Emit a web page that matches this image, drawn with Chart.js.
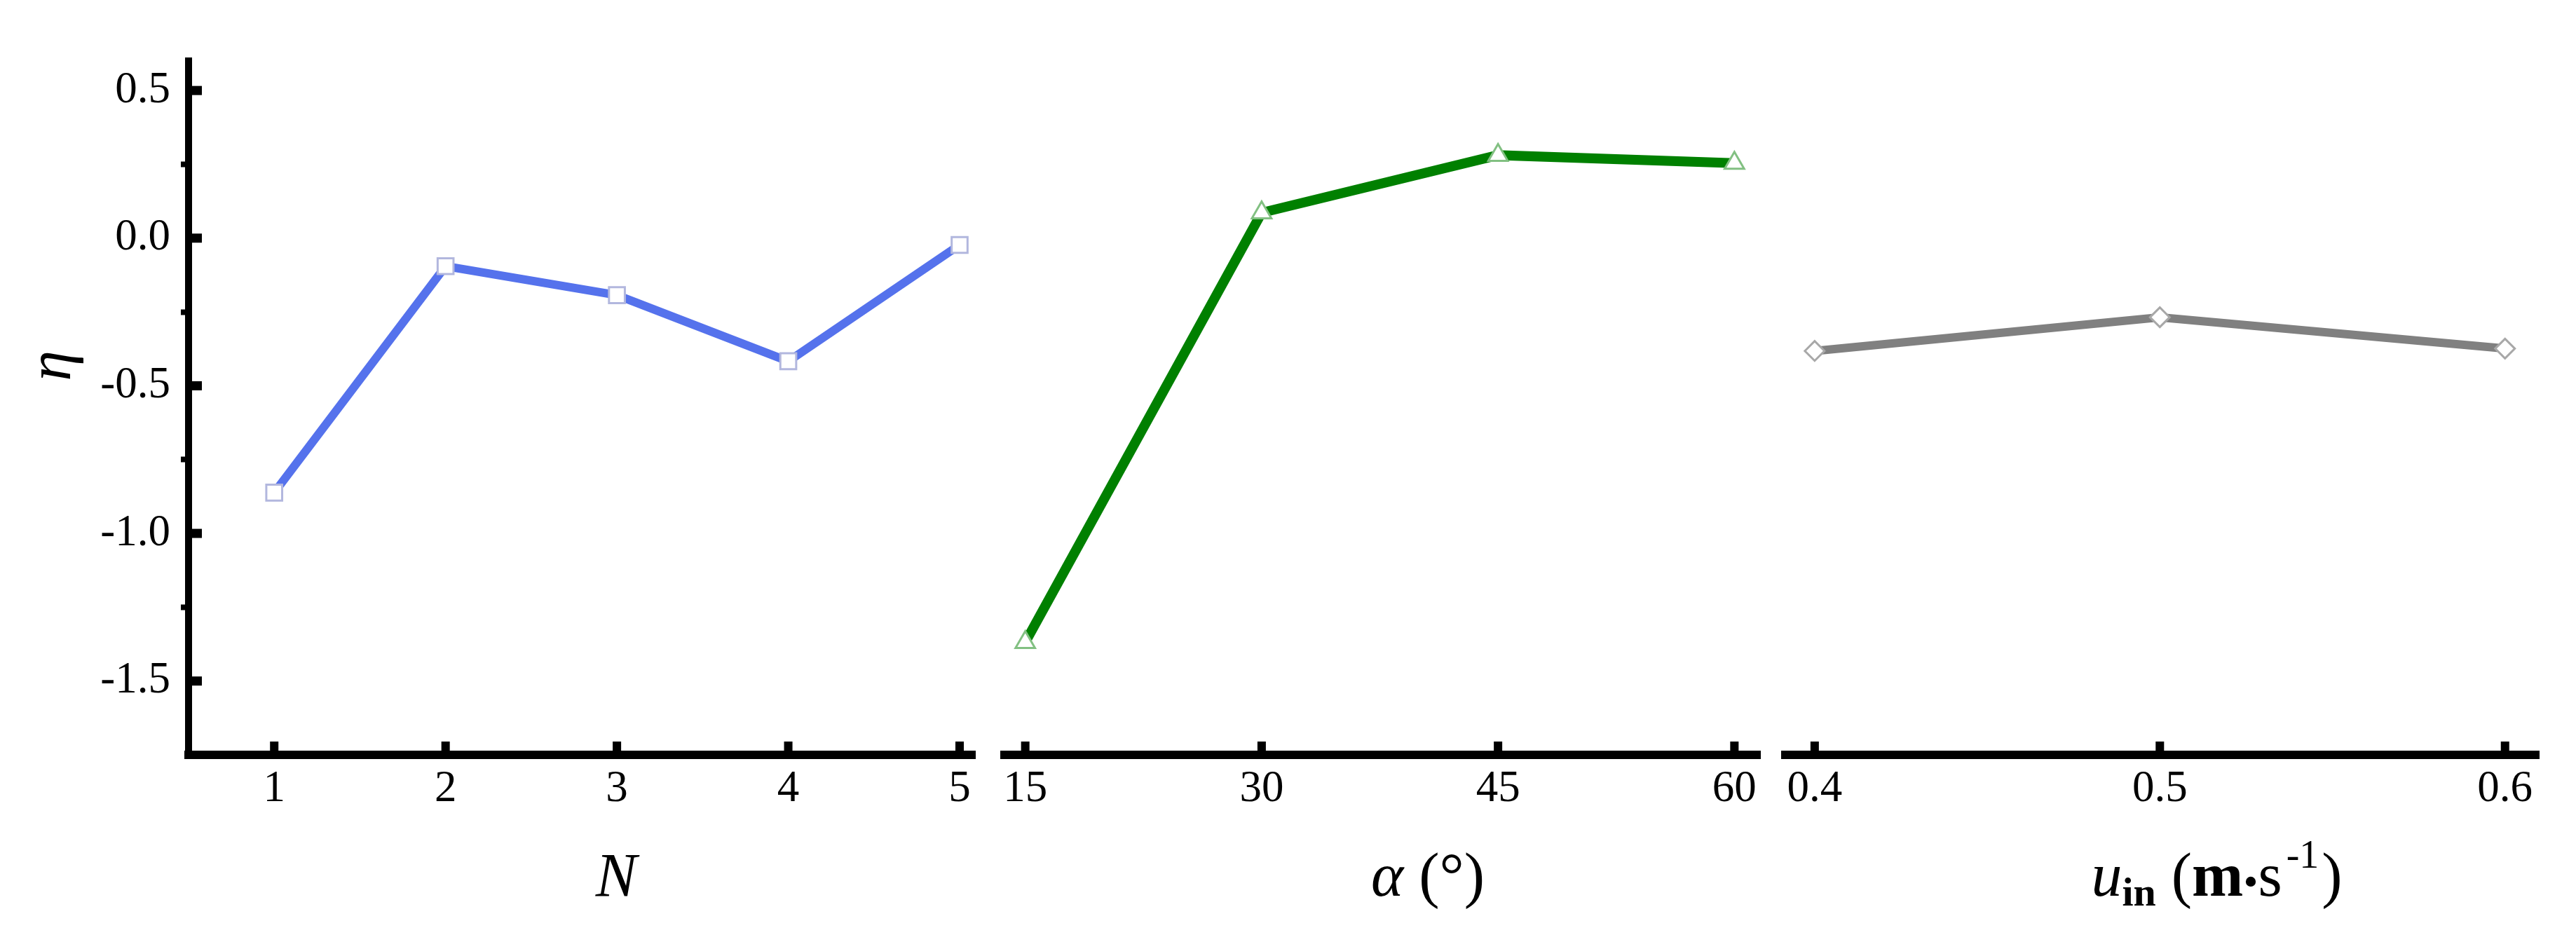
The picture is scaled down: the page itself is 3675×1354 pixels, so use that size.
<!DOCTYPE html>
<html>
<head>
<meta charset="utf-8">
<title>eta vs N, alpha, u_in</title>
<script src="https://cdn.jsdelivr.net/npm/chart.js@4.4.1/dist/chart.umd.min.js"></script>
<style>
  html, body { margin: 0; padding: 0; background: #fff; }
  #wrap { position: relative; width: 3675px; height: 1354px; overflow: hidden; background: #fff; }
  #wrap canvas { position: absolute; top: 0; }
</style>
</head>
<body>
<div id="wrap">
  <canvas id="c-n" width="1410" height="1354" style="left:0"></canvas>
  <canvas id="c-alpha" width="1120" height="1354" style="left:1410px"></canvas>
  <canvas id="c-u" width="1145" height="1354" style="left:2530px"></canvas>
</div>
<script>
(function () {
    'use strict';

    // values
    var nValues = [1, 2, 3, 4, 5];
    var etaN = [-0.862, -0.095, -0.193, -0.417, -0.023];
    var alphaValues = [15, 30, 45, 60];
    var etaAlpha = [-1.369, 0.086, 0.281, 0.254];
    var uValues = [0.4, 0.5, 0.6];
    var etaU = [-0.382, -0.268, -0.374];

    var nTickLabels = ['1', '2', '3', '4', '5'];
    var alphaTickLabels = ['15', '30', '45', '60'];
    var uTickLabels = ['0.4', '0.5', '0.6'];
    var etaMajorTicks = [-1.5, -1.0, -0.5, 0.0, 0.5];
    var etaTickLabels = ['-1.5', '-1.0', '-0.5', '0.0', '0.5'];
    var etaMinorTicks = [-1.25, -0.75, -0.25, 0.25];

    var SERIF = '"Liberation Serif", "Times New Roman", serif';
    function font(style, size) { return style + ' ' + size + 'px ' + SERIF; }

    Chart.defaults.font.family = SERIF;
    Chart.defaults.color = '#000';

    // major ticks point into the plot, so they are drawn here
    var innerTicks = {
        id: 'innerTicks',
        afterDraw: function (chart, args, opts) {
            var ctx = chart.ctx, area = chart.chartArea;
            var xs = chart.scales.x, ys = chart.scales.y;
            ctx.save();
            ctx.fillStyle = '#000';
            xs.ticks.forEach(function (t) {
                var px = xs.getPixelForValue(t.value);
                ctx.fillRect(px - 6, area.bottom - 19, 12, 13);
            });
            if (opts.y) {
                etaMajorTicks.forEach(function (v) {
                    var py = ys.getPixelForValue(v);
                    ctx.fillRect(area.left + 5, py - 6.5, 14, 13);
                });
            }
            ctx.restore();
        }
    };

    // axis titles with mixed italic / bold / sub / superscript
    var axisText = {
        id: 'axisText',
        afterDraw: function (chart, args, opts) {
            var ctx = chart.ctx, area = chart.chartArea;
            (opts.items || []).forEach(function (it) {
                ctx.save();
                ctx.fillStyle = '#000';
                ctx.textAlign = 'left';
                ctx.textBaseline = 'alphabetic';
                var w = 0;
                it.parts.forEach(function (p) {
                    ctx.font = p.font;
                    w += (p.gap || 0) + ctx.measureText(p.text).width;
                });
                var ox = it.x != null ? it.x : (area.left + area.right) / 2 + (it.dx || 0);
                ctx.translate(ox, it.y);
                if (it.rotate) ctx.rotate(it.rotate);
                var cur = -w / 2;
                it.parts.forEach(function (p) {
                    ctx.font = p.font;
                    cur += p.gap || 0;
                    ctx.fillText(p.text, cur, p.dy || 0);
                    cur += ctx.measureText(p.text).width;
                });
                ctx.restore();
            });
        }
    };

    function points(xs, ys) {
        return xs.map(function (x, i) { return { x: x, y: ys[i] }; });
    }

    function panel(id, p) {
        var yScale;
        if (p.withY) {
            yScale = {
                position: 'left', min: -1.75, max: 0.6,
                afterBuildTicks: function (s) {
                    s.ticks = etaMajorTicks.concat(etaMinorTicks).sort(function (a, b) { return a - b; })
                        .map(function (v) { return { value: v }; });
                },
                afterFit: function (s) { s.width = 269; },
                grid: {
                    display: true, drawOnChartArea: false, drawTicks: true, tickLength: 11, tickWidth: 8,
                    tickColor: function (c) {
                        return c.tick && etaMinorTicks.indexOf(c.tick.value) >= 0 ? '#000' : 'rgba(0,0,0,0)';
                    }
                },
                border: { display: true, color: '#000', width: 10 },
                ticks: {
                    padding: 15, color: '#000', font: { size: 63 },
                    callback: function (v) {
                        var i = etaMajorTicks.indexOf(v);
                        return i < 0 ? '' : etaTickLabels[i];
                    }
                }
            };
        } else {
            yScale = { display: false, min: -1.75, max: 0.6 };
        }

        return new Chart(document.getElementById(id), {
            type: 'line',
            data: {
                datasets: [{
                    data: points(p.xs, p.ys),
                    borderColor: p.line, borderWidth: p.lineWidth,
                    pointStyle: p.marker, pointRadius: p.radius,
                    pointBorderColor: p.edge, pointBackgroundColor: '#fff', pointBorderWidth: 3,
                    tension: 0, fill: false
                }]
            },
            options: {
                responsive: false, animation: false, events: [],
                layout: { padding: p.pad },
                plugins: {
                    legend: { display: false }, tooltip: { enabled: false },
                    innerTicks: { y: p.withY },
                    axisText: { items: p.titles }
                },
                scales: {
                    x: {
                        type: 'linear', min: p.xMin, max: p.xMax,
                        afterBuildTicks: function (s) {
                            s.ticks = p.xs.map(function (v) { return { value: v }; });
                        },
                        afterFit: function (s) { s.height = 277; },
                        grid: { display: false, drawTicks: false },
                        border: { display: true, color: '#000', width: 12 },
                        ticks: {
                            autoSkip: false, maxRotation: 0, padding: 12, color: '#000', font: { size: 63 },
                            callback: function (v, i) { return p.xLabels[i]; }
                        }
                    },
                    y: yScale
                }
            },
            plugins: [innerTicks, axisText]
        });
    }

    panel('c-n', {
        xs: nValues, ys: etaN, xLabels: nTickLabels, xMin: 0.5, xMax: 5.09,
        line: '#5572EC', lineWidth: 12, marker: 'rect', radius: 16, edge: '#B2B7DE',
        pad: { top: 87, right: 15, bottom: 0, left: 0 }, withY: true,
        titles: [
            { dx: 49, y: 1278, parts: [{ text: 'N', font: font('italic', 88) }] },
            { x: 100, y: 522, rotate: -Math.PI / 2, parts: [{ text: 'η', font: font('italic', 88) }] }
        ]
    });

    panel('c-alpha', {
        xs: alphaValues, ys: etaAlpha, xLabels: alphaTickLabels, xMin: 13.68, xMax: 61.63,
        line: '#008000', lineWidth: 14, marker: 'triangle', radius: 16, edge: '#82C082',
        pad: { top: 87, right: 7, bottom: 0, left: 23 }, withY: false,
        titles: [
            { dx: 65, y: 1278, parts: [
                { text: 'α', font: font('italic', 88) },
                { text: ' (', font: font('normal', 88) },
                { text: '°', font: font('normal', 88) },
                { text: ')', font: font('normal', 88) }
            ] }
        ]
    });

    panel('c-u', {
        xs: uValues, ys: etaU, xLabels: uTickLabels, xMin: 0.3915, xMax: 0.6098,
        line: '#808080', lineWidth: 12, marker: 'rectRot', radius: 14, edge: '#A8A8A8',
        pad: { top: 87, right: 53, bottom: 0, left: 12 }, withY: false,
        titles: [
            { dx: 78, y: 1278, parts: [
                { text: 'u', font: font('italic', 88) },
                { text: 'in', font: font('bold', 58), dy: 14 },
                { text: ' (', font: font('normal', 88) },
                { text: 'm', font: font('bold', 88) },
                { text: '•', font: font('normal', 60) },
                { text: 's', font: font('normal', 88) },
                { text: '-1', font: font('normal', 56), dy: -40, gap: 6 },
                { text: ')', font: font('normal', 88), gap: 4 }
            ] }
        ]
    });
})();
</script>
</body>
</html>
